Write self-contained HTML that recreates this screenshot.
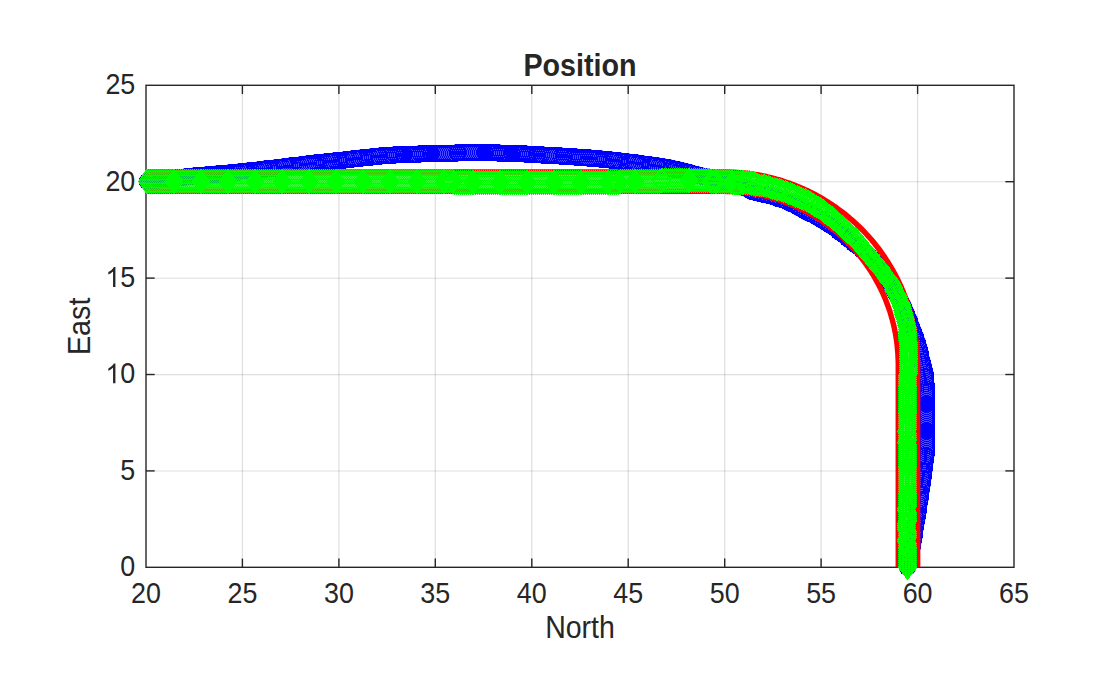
<!DOCTYPE html>
<html><head><meta charset="utf-8"><title>Position</title>
<style>
html,body{margin:0;padding:0;background:#fff;}
body{width:1120px;height:676px;overflow:hidden;font-family:"Liberation Sans",sans-serif;}
svg{display:block;}
text{font-family:"Liberation Sans",sans-serif;fill:#262626;}
</style></head><body>
<svg width="1120" height="676" viewBox="0 0 1120 676">
<defs>
<marker id="gd" markerUnits="userSpaceOnUse" markerWidth="24" markerHeight="30" refX="0" refY="0" viewBox="-12 -15 24 30" orient="0" overflow="visible">
<path d="M0,-12 L9,0 L0,12 L-9,0 Z" fill="none" stroke="#00ff00" stroke-width="1" shape-rendering="crispEdges"/></marker>
<marker id="bc" markerUnits="userSpaceOnUse" markerWidth="22" markerHeight="22" refX="0" refY="0" viewBox="-11 -11 22 22" orient="0" overflow="visible">
<circle cx="0" cy="0" r="8" fill="none" stroke="#0000ff" stroke-width="1" shape-rendering="crispEdges"/></marker>
<marker id="gf" markerUnits="userSpaceOnUse" markerWidth="24" markerHeight="30" refX="0" refY="0" viewBox="-12 -15 24 30" orient="0" overflow="visible">
<path d="M0,-12.5 L9.5,0 L0,12.5 L-9.5,0 Z" fill="#00ff00"/></marker>
<marker id="bf" markerUnits="userSpaceOnUse" markerWidth="22" markerHeight="22" refX="0" refY="0" viewBox="-11 -11 22 22" orient="0" overflow="visible">
<circle cx="0" cy="0" r="8.5" fill="#0000ff"/></marker>
<marker id="gd0" markerUnits="userSpaceOnUse" markerWidth="24" markerHeight="30" refX="0" refY="0" viewBox="-12 -15 24 30" orient="0" overflow="visible">
<path d="M0,-12 L7.8,0 L0,12 L-7.8,0 Z" fill="none" stroke="#00ff00" stroke-width="1" shape-rendering="crispEdges"/></marker>
<marker id="gf0" markerUnits="userSpaceOnUse" markerWidth="24" markerHeight="30" refX="0" refY="0" viewBox="-12 -15 24 30" orient="0" overflow="visible">
<path d="M0,-12.5 L8.3,0 L0,12.5 L-8.3,0 Z" fill="#00ff00"/></marker>
<marker id="bc0" markerUnits="userSpaceOnUse" markerWidth="22" markerHeight="22" refX="0" refY="0" viewBox="-11 -11 22 22" orient="0" overflow="visible">
<circle cx="0" cy="0" r="7.2" fill="none" stroke="#0000ff" stroke-width="1" shape-rendering="crispEdges"/></marker>
<marker id="bf0" markerUnits="userSpaceOnUse" markerWidth="22" markerHeight="22" refX="0" refY="0" viewBox="-11 -11 22 22" orient="0" overflow="visible">
<circle cx="0" cy="0" r="7.7" fill="#0000ff"/></marker>
<marker id="gda" markerUnits="userSpaceOnUse" markerWidth="24" markerHeight="30" refX="0" refY="0" viewBox="-12 -15 24 30" orient="0" overflow="visible">
<path d="M0,-11.2 L9,0 L0,11.2 L-9,0 Z" fill="none" stroke="#00ff00" stroke-width="1" shape-rendering="crispEdges"/></marker>
<marker id="gfa" markerUnits="userSpaceOnUse" markerWidth="24" markerHeight="30" refX="0" refY="0" viewBox="-12 -15 24 30" orient="0" overflow="visible">
<path d="M0,-11.7 L9.5,0 L0,11.7 L-9.5,0 Z" fill="#00ff00"/></marker>
</defs>
<rect width="1120" height="676" fill="#fff"/>
<g stroke="rgba(38,38,38,0.15)" stroke-width="1.25" fill="none"><line x1="242.4" y1="85.3" x2="242.4" y2="567.3"/><line x1="338.9" y1="85.3" x2="338.9" y2="567.3"/><line x1="435.3" y1="85.3" x2="435.3" y2="567.3"/><line x1="531.8" y1="85.3" x2="531.8" y2="567.3"/><line x1="628.2" y1="85.3" x2="628.2" y2="567.3"/><line x1="724.7" y1="85.3" x2="724.7" y2="567.3"/><line x1="821.1" y1="85.3" x2="821.1" y2="567.3"/><line x1="917.6" y1="85.3" x2="917.6" y2="567.3"/><line stroke-width="1.1" x1="146.0" y1="471.0" x2="1014.0" y2="471.0"/><line stroke-width="1.1" x1="146.0" y1="374.6" x2="1014.0" y2="374.6"/><line stroke-width="1.1" x1="146.0" y1="278.2" x2="1014.0" y2="278.2"/><line stroke-width="1.1" x1="146.0" y1="181.8" x2="1014.0" y2="181.8"/></g>
<g stroke="#262626" stroke-width="1.4" fill="none"><line x1="242.4" y1="567.3" x2="242.4" y2="558.6"/><line x1="242.4" y1="85.3" x2="242.4" y2="94.0"/><line x1="338.9" y1="567.3" x2="338.9" y2="558.6"/><line x1="338.9" y1="85.3" x2="338.9" y2="94.0"/><line x1="435.3" y1="567.3" x2="435.3" y2="558.6"/><line x1="435.3" y1="85.3" x2="435.3" y2="94.0"/><line x1="531.8" y1="567.3" x2="531.8" y2="558.6"/><line x1="531.8" y1="85.3" x2="531.8" y2="94.0"/><line x1="628.2" y1="567.3" x2="628.2" y2="558.6"/><line x1="628.2" y1="85.3" x2="628.2" y2="94.0"/><line x1="724.7" y1="567.3" x2="724.7" y2="558.6"/><line x1="724.7" y1="85.3" x2="724.7" y2="94.0"/><line x1="821.1" y1="567.3" x2="821.1" y2="558.6"/><line x1="821.1" y1="85.3" x2="821.1" y2="94.0"/><line x1="917.6" y1="567.3" x2="917.6" y2="558.6"/><line x1="917.6" y1="85.3" x2="917.6" y2="94.0"/><line x1="146.0" y1="470.9" x2="154.7" y2="470.9"/><line x1="1014.0" y1="470.9" x2="1005.3" y2="470.9"/><line x1="146.0" y1="374.5" x2="154.7" y2="374.5"/><line x1="1014.0" y1="374.5" x2="1005.3" y2="374.5"/><line x1="146.0" y1="278.1" x2="154.7" y2="278.1"/><line x1="1014.0" y1="278.1" x2="1005.3" y2="278.1"/><line x1="146.0" y1="181.7" x2="154.7" y2="181.7"/><line x1="1014.0" y1="181.7" x2="1005.3" y2="181.7"/>
<rect x="146.0" y="85.3" width="868.0" height="481.99999999999994"/></g>
<g fill="none" stroke-linejoin="round">
<g opacity="0.7"><polyline points="146.5,181.5 147.5,181.5 149.5,181.5 151.5,180.5 153.5,180.5 155.5,180.5 157.5,180.5 159.5,179.5 161.5,179.5 163.5,179.5 165.5,179.5 167.5,178.5 168.5,178.5 170.5,178.5 172.5,178.5 174.5,178.5 176.5,177.5 178.5,177.5 180.5,177.5 182.5,177.5 184.5,177.5 186.5,176.5 188.5,176.5 190.5,176.5 191.5,176.5 193.5,176.5 195.5,175.5 197.5,175.5 199.5,175.5 201.5,175.5 203.5,175.5 205.5,175.5 207.5,174.5 209.5,174.5 211.5,174.5 213.5,174.5 215.5,174.5 216.5,174.5 218.5,173.5 220.5,173.5 222.5,173.5 224.5,173.5 226.5,173.5 228.5,173.5 230.5,172.5 232.5,172.5 234.5,172.5 236.5,172.5 238.5,172.5 240.5,171.5 241.5,171.5 243.5,171.5 245.5,171.5 247.5,171.5 249.5,170.5 251.5,170.5 253.5,170.5 255.5,170.5 257.5,170.5 259.5,169.5 261.5,169.5 263.5,169.5 264.5,169.5 266.5,168.5 268.5,168.5 270.5,168.5 272.5,168.5 274.5,168.5 276.5,167.5 278.5,167.5 280.5,167.5 282.5,167.5 284.5,166.5 285.5,166.5 287.5,166.5 289.5,166.5 291.5,165.5 293.5,165.5 295.5,165.5 297.5,165.5 299.5,165.5 301.5,164.5 303.5,164.5 305.5,164.5 307.5,164.5 308.5,163.5 310.5,163.5 312.5,163.5 314.5,163.5 316.5,162.5 318.5,162.5 320.5,162.5 322.5,162.5 324.5,162.5 326.5,161.5 328.5,161.5 330.5,161.5 331.5,161.5 333.5,161.5 335.5,160.5 337.5,160.5 339.5,160.5 341.5,160.5 343.5,160.5 345.5,159.5 347.5,159.5 349.5,159.5 351.5,159.5 353.5,158.5 354.5,158.5 356.5,158.5 358.5,158.5 360.5,158.5 362.5,157.5 364.5,157.5 366.5,157.5 368.5,157.5 370.5,157.5 372.5,156.5 374.5,156.5 376.5,156.5 378.5,156.5 379.5,156.5 381.5,155.5 383.5,155.5 385.5,155.5 387.5,155.5 389.5,155.5 391.5,155.5 393.5,155.5 395.5,154.5 397.5,154.5 399.5,154.5 401.5,154.5 403.5,154.5 404.5,154.5 406.5,154.5 408.5,154.5 410.5,154.5 412.5,154.5 414.5,154.5 416.5,154.5 418.5,154.5 420.5,153.5 422.5,153.5 424.5,153.5 426.5,153.5 428.5,153.5 430.5,153.5 431.5,153.5 433.5,153.5 435.5,153.5 437.5,153.5 439.5,153.5 441.5,153.5 443.5,153.5 445.5,153.5 447.5,153.5 449.5,153.5 451.5,153.5 453.5,153.5 455.5,153.5 457.5,152.5 458.5,152.5 460.5,152.5 462.5,152.5 464.5,152.5 466.5,152.5 468.5,152.5 470.5,152.5 472.5,152.5 474.5,152.5 476.5,152.5 478.5,152.5 480.5,152.5 482.5,152.5 484.5,152.5 485.5,152.5 487.5,152.5 489.5,152.5 491.5,152.5 493.5,152.5 495.5,152.5 497.5,152.5 499.5,153.5 501.5,153.5 503.5,153.5 505.5,153.5 507.5,153.5 509.5,153.5 511.5,153.5 512.5,153.5 514.5,153.5 516.5,153.5 518.5,153.5 520.5,153.5 522.5,153.5 524.5,153.5 526.5,154.5 528.5,154.5 530.5,154.5 532.5,154.5 534.5,154.5 536.5,154.5 537.5,154.5 539.5,154.5 541.5,154.5 543.5,155.5 545.5,155.5 547.5,155.5 549.5,155.5 551.5,155.5 553.5,155.5 555.5,155.5 557.5,155.5 559.5,155.5 561.5,156.5 563.5,156.5 564.5,156.5 566.5,156.5 568.5,156.5 570.5,156.5 572.5,156.5 574.5,156.5 576.5,157.5 578.5,157.5 580.5,157.5 582.5,157.5 584.5,157.5 586.5,157.5 588.5,157.5 589.5,158.5 591.5,158.5 593.5,158.5 595.5,158.5 597.5,158.5 599.5,158.5 601.5,159.5 603.5,159.5 605.5,159.5 607.5,159.5 609.5,159.5 611.5,160.5 613.5,160.5 614.5,160.5 616.5,160.5 618.5,160.5 620.5,161.5 622.5,161.5 624.5,161.5 626.5,161.5 628.5,162.5 630.5,162.5 632.5,162.5 634.5,162.5 635.5,162.5 637.5,163.5 639.5,163.5 641.5,163.5 643.5,164.5 645.5,164.5 647.5,164.5 649.5,164.5 651.5,165.5 653.5,165.5 655.5,165.5 656.5,165.5 658.5,166.5 660.5,166.5 662.5,166.5 664.5,167.5 666.5,167.5 668.5,167.5 670.5,168.5 672.5,168.5 674.5,169.5 675.5,169.5 677.5,169.5 679.5,170.5 681.5,170.5 683.5,171.5 685.5,171.5 687.5,172.5 689.5,172.5 690.5,173.5 692.5,173.5 694.5,174.5 696.5,174.5 698.5,175.5 700.5,175.5 702.5,176.5 704.5,176.5 705.5,176.5 707.5,177.5 709.5,177.5 711.5,178.5 713.5,178.5 715.5,179.5 717.5,179.5 718.5,180.5 720.5,180.5 722.5,181.5 724.5,182.5 726.5,182.5 728.5,182.5 730.5,183.5 732.5,183.5 733.5,184.5 735.5,184.5 737.5,185.5 739.5,185.5 741.5,186.5 743.5,187.5 744.5,187.5 746.5,188.5 748.5,189.5 750.5,190.5 751.5,191.5 753.5,191.5 755.5,192.5 757.5,192.5 759.5,193.5 761.5,193.5 763.5,194.5 764.5,194.5 766.5,194.5 768.5,195.5 770.5,195.5 772.5,196.5 774.5,196.5 776.5,197.5 777.5,198.5 779.5,198.5 781.5,199.5 783.5,199.5 785.5,200.5 787.5,201.5 788.5,202.5 790.5,203.5 792.5,203.5 793.5,204.5 795.5,205.5 797.5,206.5 798.5,207.5 800.5,208.5 802.5,209.5 804.5,210.5 805.5,211.5 807.5,212.5 809.5,213.5 810.5,213.5 812.5,214.5 814.5,215.5 816.5,216.5 817.5,217.5 819.5,218.5 821.5,219.5 822.5,220.5 824.5,221.5 826.5,222.5 827.5,223.5 829.5,224.5 830.5,225.5 832.5,226.5 834.5,227.5 835.5,228.5 837.5,229.5 838.5,231.5 840.5,232.5 841.5,233.5 843.5,234.5 844.5,235.5 846.5,236.5 847.5,238.5 849.5,239.5 850.5,240.5 852.5,241.5 853.5,243.5 855.5,244.5 856.5,245.5 858.5,246.5 859.5,247.5 861.5,249.5 862.5,250.5 864.5,251.5 865.5,252.5 867.5,254.5 868.5,255.5 869.5,256.5 871.5,258.5 872.5,259.5 873.5,261.5 875.5,262.5 876.5,264.5 877.5,265.5 878.5,267.5 879.5,268.5 881.5,270.5 882.5,271.5 883.5,273.5 884.5,274.5 885.5,276.5 886.5,278.5 887.5,279.5 888.5,281.5 889.5,282.5 890.5,284.5 892.5,286.5 893.5,287.5 893.5,289.5 894.5,291.5 895.5,292.5 896.5,294.5 897.5,296.5 898.5,297.5 899.5,299.5 900.5,301.5 901.5,303.5 902.5,304.5 903.5,306.5 903.5,308.5 904.5,309.5 905.5,311.5 906.5,313.5 906.5,315.5 907.5,317.5 908.5,318.5 909.5,320.5 909.5,322.5 910.5,324.5 911.5,326.5 911.5,327.5 912.5,329.5 913.5,331.5 913.5,333.5 914.5,335.5 915.5,336.5 915.5,338.5 916.5,340.5 917.5,342.5 917.5,344.5 918.5,346.5 918.5,347.5 919.5,349.5 919.5,351.5 920.5,353.5 920.5,355.5 920.5,357.5 921.5,359.5 921.5,361.5 922.5,362.5 922.5,364.5 923.5,366.5 923.5,368.5 924.5,370.5 924.5,372.5 925.5,374.5 925.5,376.5 925.5,377.5 925.5,379.5 925.5,381.5 925.5,383.5 926.5,385.5 926.5,387.5 926.5,389.5 926.5,391.5 926.5,393.5 926.5,395.5 926.5,397.5 926.5,399.5 926.5,401.5 926.5,403.5 926.5,404.5 926.5,406.5 926.5,408.5 926.5,410.5 926.5,412.5 926.5,414.5 926.5,416.5 926.5,418.5 926.5,420.5 926.5,422.5 926.5,424.5 926.5,426.5 926.5,428.5 926.5,430.5 926.5,431.5 926.5,433.5 926.5,435.5 926.5,437.5 926.5,439.5 926.5,441.5 926.5,443.5 926.5,445.5 926.5,447.5 926.5,449.5 926.5,451.5 926.5,453.5 925.5,455.5 925.5,456.5 925.5,458.5 925.5,460.5 924.5,462.5 924.5,464.5 924.5,466.5 924.5,468.5 923.5,470.5 923.5,472.5 923.5,474.5 923.5,476.5 922.5,478.5 922.5,479.5 922.5,481.5 922.5,483.5 921.5,485.5 921.5,487.5 921.5,489.5 920.5,491.5 920.5,493.5 920.5,495.5 920.5,497.5 919.5,499.5 919.5,500.5 919.5,502.5 918.5,504.5 918.5,506.5 918.5,508.5 918.5,510.5 917.5,512.5 917.5,514.5 917.5,516.5 916.5,518.5 916.5,519.5 916.5,521.5 915.5,523.5 915.5,525.5 915.5,527.5 914.5,529.5 914.5,531.5 914.5,533.5 914.5,535.5 913.5,537.5 913.5,539.5 913.5,540.5 912.5,542.5 912.5,544.5 912.5,546.5 911.5,548.5 911.5,550.5 910.5,552.5 910.5,554.5 910.5,556.5 909.5,557.5 909.5,559.5 909.5,561.5 908.5,563.5 908.5,565.5 907.5,567.5" stroke="none" marker-start="url(#bf0)" marker-mid="url(#bf)" marker-end="url(#bf)"/></g>
<polyline points="146.5,181.5 147.5,181.5 149.5,181.5 151.5,180.5 153.5,180.5 155.5,180.5 157.5,180.5 159.5,179.5 161.5,179.5 163.5,179.5 165.5,179.5 167.5,178.5 168.5,178.5 170.5,178.5 172.5,178.5 174.5,178.5 176.5,177.5 178.5,177.5 180.5,177.5 182.5,177.5 184.5,177.5 186.5,176.5 188.5,176.5 190.5,176.5 191.5,176.5 193.5,176.5 195.5,175.5 197.5,175.5 199.5,175.5 201.5,175.5 203.5,175.5 205.5,175.5 207.5,174.5 209.5,174.5 211.5,174.5 213.5,174.5 215.5,174.5 216.5,174.5 218.5,173.5 220.5,173.5 222.5,173.5 224.5,173.5 226.5,173.5 228.5,173.5 230.5,172.5 232.5,172.5 234.5,172.5 236.5,172.5 238.5,172.5 240.5,171.5 241.5,171.5 243.5,171.5 245.5,171.5 247.5,171.5 249.5,170.5 251.5,170.5 253.5,170.5 255.5,170.5 257.5,170.5 259.5,169.5 261.5,169.5 263.5,169.5 264.5,169.5 266.5,168.5 268.5,168.5 270.5,168.5 272.5,168.5 274.5,168.5 276.5,167.5 278.5,167.5 280.5,167.5 282.5,167.5 284.5,166.5 285.5,166.5 287.5,166.5 289.5,166.5 291.5,165.5 293.5,165.5 295.5,165.5 297.5,165.5 299.5,165.5 301.5,164.5 303.5,164.5 305.5,164.5 307.5,164.5 308.5,163.5 310.5,163.5 312.5,163.5 314.5,163.5 316.5,162.5 318.5,162.5 320.5,162.5 322.5,162.5 324.5,162.5 326.5,161.5 328.5,161.5 330.5,161.5 331.5,161.5 333.5,161.5 335.5,160.5 337.5,160.5 339.5,160.5 341.5,160.5 343.5,160.5 345.5,159.5 347.5,159.5 349.5,159.5 351.5,159.5 353.5,158.5 354.5,158.5 356.5,158.5 358.5,158.5 360.5,158.5 362.5,157.5 364.5,157.5 366.5,157.5 368.5,157.5 370.5,157.5 372.5,156.5 374.5,156.5 376.5,156.5 378.5,156.5 379.5,156.5 381.5,155.5 383.5,155.5 385.5,155.5 387.5,155.5 389.5,155.5 391.5,155.5 393.5,155.5 395.5,154.5 397.5,154.5 399.5,154.5 401.5,154.5 403.5,154.5 404.5,154.5 406.5,154.5 408.5,154.5 410.5,154.5 412.5,154.5 414.5,154.5 416.5,154.5 418.5,154.5 420.5,153.5 422.5,153.5 424.5,153.5 426.5,153.5 428.5,153.5 430.5,153.5 431.5,153.5 433.5,153.5 435.5,153.5 437.5,153.5 439.5,153.5 441.5,153.5 443.5,153.5 445.5,153.5 447.5,153.5 449.5,153.5 451.5,153.5 453.5,153.5 455.5,153.5 457.5,152.5 458.5,152.5 460.5,152.5 462.5,152.5 464.5,152.5 466.5,152.5 468.5,152.5 470.5,152.5 472.5,152.5 474.5,152.5 476.5,152.5 478.5,152.5 480.5,152.5 482.5,152.5 484.5,152.5 485.5,152.5 487.5,152.5 489.5,152.5 491.5,152.5 493.5,152.5 495.5,152.5 497.5,152.5 499.5,153.5 501.5,153.5 503.5,153.5 505.5,153.5 507.5,153.5 509.5,153.5 511.5,153.5 512.5,153.5 514.5,153.5 516.5,153.5 518.5,153.5 520.5,153.5 522.5,153.5 524.5,153.5 526.5,154.5 528.5,154.5 530.5,154.5 532.5,154.5 534.5,154.5 536.5,154.5 537.5,154.5 539.5,154.5 541.5,154.5 543.5,155.5 545.5,155.5 547.5,155.5 549.5,155.5 551.5,155.5 553.5,155.5 555.5,155.5 557.5,155.5 559.5,155.5 561.5,156.5 563.5,156.5 564.5,156.5 566.5,156.5 568.5,156.5 570.5,156.5 572.5,156.5 574.5,156.5 576.5,157.5 578.5,157.5 580.5,157.5 582.5,157.5 584.5,157.5 586.5,157.5 588.5,157.5 589.5,158.5 591.5,158.5 593.5,158.5 595.5,158.5 597.5,158.5 599.5,158.5 601.5,159.5 603.5,159.5 605.5,159.5 607.5,159.5 609.5,159.5 611.5,160.5 613.5,160.5 614.5,160.5 616.5,160.5 618.5,160.5 620.5,161.5 622.5,161.5 624.5,161.5 626.5,161.5 628.5,162.5 630.5,162.5 632.5,162.5 634.5,162.5 635.5,162.5 637.5,163.5 639.5,163.5 641.5,163.5 643.5,164.5 645.5,164.5 647.5,164.5 649.5,164.5 651.5,165.5 653.5,165.5 655.5,165.5 656.5,165.5 658.5,166.5 660.5,166.5 662.5,166.5 664.5,167.5 666.5,167.5 668.5,167.5 670.5,168.5 672.5,168.5 674.5,169.5 675.5,169.5 677.5,169.5 679.5,170.5 681.5,170.5 683.5,171.5 685.5,171.5 687.5,172.5 689.5,172.5 690.5,173.5 692.5,173.5 694.5,174.5 696.5,174.5 698.5,175.5 700.5,175.5 702.5,176.5 704.5,176.5 705.5,176.5 707.5,177.5 709.5,177.5 711.5,178.5 713.5,178.5 715.5,179.5 717.5,179.5 718.5,180.5 720.5,180.5 722.5,181.5 724.5,182.5 726.5,182.5 728.5,182.5 730.5,183.5 732.5,183.5 733.5,184.5 735.5,184.5 737.5,185.5 739.5,185.5 741.5,186.5 743.5,187.5 744.5,187.5 746.5,188.5 748.5,189.5 750.5,190.5 751.5,191.5 753.5,191.5 755.5,192.5 757.5,192.5 759.5,193.5 761.5,193.5 763.5,194.5 764.5,194.5 766.5,194.5 768.5,195.5 770.5,195.5 772.5,196.5 774.5,196.5 776.5,197.5 777.5,198.5 779.5,198.5 781.5,199.5 783.5,199.5 785.5,200.5 787.5,201.5 788.5,202.5 790.5,203.5 792.5,203.5 793.5,204.5 795.5,205.5 797.5,206.5 798.5,207.5 800.5,208.5 802.5,209.5 804.5,210.5 805.5,211.5 807.5,212.5 809.5,213.5 810.5,213.5 812.5,214.5 814.5,215.5 816.5,216.5 817.5,217.5 819.5,218.5 821.5,219.5 822.5,220.5 824.5,221.5 826.5,222.5 827.5,223.5 829.5,224.5 830.5,225.5 832.5,226.5 834.5,227.5 835.5,228.5 837.5,229.5 838.5,231.5 840.5,232.5 841.5,233.5 843.5,234.5 844.5,235.5 846.5,236.5 847.5,238.5 849.5,239.5 850.5,240.5 852.5,241.5 853.5,243.5 855.5,244.5 856.5,245.5 858.5,246.5 859.5,247.5 861.5,249.5 862.5,250.5 864.5,251.5 865.5,252.5 867.5,254.5 868.5,255.5 869.5,256.5 871.5,258.5 872.5,259.5 873.5,261.5 875.5,262.5 876.5,264.5 877.5,265.5 878.5,267.5 879.5,268.5 881.5,270.5 882.5,271.5 883.5,273.5 884.5,274.5 885.5,276.5 886.5,278.5 887.5,279.5 888.5,281.5 889.5,282.5 890.5,284.5 892.5,286.5 893.5,287.5 893.5,289.5 894.5,291.5 895.5,292.5 896.5,294.5 897.5,296.5 898.5,297.5 899.5,299.5 900.5,301.5 901.5,303.5 902.5,304.5 903.5,306.5 903.5,308.5 904.5,309.5 905.5,311.5 906.5,313.5 906.5,315.5 907.5,317.5 908.5,318.5 909.5,320.5 909.5,322.5 910.5,324.5 911.5,326.5 911.5,327.5 912.5,329.5 913.5,331.5 913.5,333.5 914.5,335.5 915.5,336.5 915.5,338.5 916.5,340.5 917.5,342.5 917.5,344.5 918.5,346.5 918.5,347.5 919.5,349.5 919.5,351.5 920.5,353.5 920.5,355.5 920.5,357.5 921.5,359.5 921.5,361.5 922.5,362.5 922.5,364.5 923.5,366.5 923.5,368.5 924.5,370.5 924.5,372.5 925.5,374.5 925.5,376.5 925.5,377.5 925.5,379.5 925.5,381.5 925.5,383.5 926.5,385.5 926.5,387.5 926.5,389.5 926.5,391.5 926.5,393.5 926.5,395.5 926.5,397.5 926.5,399.5 926.5,401.5 926.5,403.5 926.5,404.5 926.5,406.5 926.5,408.5 926.5,410.5 926.5,412.5 926.5,414.5 926.5,416.5 926.5,418.5 926.5,420.5 926.5,422.5 926.5,424.5 926.5,426.5 926.5,428.5 926.5,430.5 926.5,431.5 926.5,433.5 926.5,435.5 926.5,437.5 926.5,439.5 926.5,441.5 926.5,443.5 926.5,445.5 926.5,447.5 926.5,449.5 926.5,451.5 926.5,453.5 925.5,455.5 925.5,456.5 925.5,458.5 925.5,460.5 924.5,462.5 924.5,464.5 924.5,466.5 924.5,468.5 923.5,470.5 923.5,472.5 923.5,474.5 923.5,476.5 922.5,478.5 922.5,479.5 922.5,481.5 922.5,483.5 921.5,485.5 921.5,487.5 921.5,489.5 920.5,491.5 920.5,493.5 920.5,495.5 920.5,497.5 919.5,499.5 919.5,500.5 919.5,502.5 918.5,504.5 918.5,506.5 918.5,508.5 918.5,510.5 917.5,512.5 917.5,514.5 917.5,516.5 916.5,518.5 916.5,519.5 916.5,521.5 915.5,523.5 915.5,525.5 915.5,527.5 914.5,529.5 914.5,531.5 914.5,533.5 914.5,535.5 913.5,537.5 913.5,539.5 913.5,540.5 912.5,542.5 912.5,544.5 912.5,546.5 911.5,548.5 911.5,550.5 910.5,552.5 910.5,554.5 910.5,556.5 909.5,557.5 909.5,559.5 909.5,561.5 908.5,563.5 908.5,565.5 907.5,567.5" stroke="none" marker-start="url(#bc0)" marker-mid="url(#bc)" marker-end="url(#bc)"/>
<polyline points="146.0,172.1 724.7,172.1 727.2,172.1 729.7,172.1 732.2,172.2 734.8,172.3 737.3,172.5 739.8,172.7 742.3,172.9 744.8,173.1 747.3,173.4 749.8,173.7 752.3,174.1 754.8,174.4 757.3,174.8 759.8,175.3 762.3,175.8 764.8,176.3 767.2,176.8 769.7,177.4 772.1,178.0 774.6,178.6 777.0,179.3 779.5,180.0 781.9,180.7 784.3,181.5 786.7,182.3 789.1,183.1 791.4,184.0 793.8,184.9 796.1,185.8 798.5,186.7 800.8,187.7 803.1,188.7 805.4,189.8 807.7,190.8 810.0,191.9 812.2,193.1 814.5,194.2 816.7,195.4 818.9,196.6 821.1,197.9 823.3,199.2 825.5,200.5 827.6,201.8 829.7,203.2 831.8,204.6 833.9,206.0 836.0,207.4 838.0,208.9 840.1,210.4 842.1,211.9 844.1,213.5 846.1,215.0 848.0,216.6 849.9,218.3 851.8,219.9 853.7,221.6 855.6,223.3 857.4,225.0 859.3,226.8 861.1,228.5 862.8,230.3 864.6,232.1 866.3,234.0 868.0,235.9 869.7,237.7 871.3,239.6 873.0,241.6 874.6,243.5 876.1,245.5 877.7,247.5 879.2,249.5 880.7,251.5 882.2,253.6 883.6,255.7 885.0,257.7 886.4,259.9 887.8,262.0 889.1,264.1 890.4,266.3 891.7,268.5 893.0,270.7 894.2,272.9 895.4,275.1 896.5,277.3 897.7,279.6 898.8,281.9 899.8,284.1 900.9,286.4 901.9,288.8 902.9,291.1 903.8,293.4 904.7,295.8 905.6,298.1 906.5,300.5 907.3,302.9 908.1,305.3 908.9,307.7 909.6,310.1 910.3,312.5 911.0,315.0 911.6,317.4 912.2,319.9 912.8,322.3 913.3,324.8 913.8,327.2 914.3,329.7 914.8,332.2 915.2,334.7 915.6,337.2 915.9,339.7 916.2,342.2 916.5,344.7 916.7,347.2 917.0,349.7 917.1,352.3 917.3,354.8 917.4,357.3 917.5,359.8 917.5,362.3 917.6,364.9 917.6,567.3" stroke="#ff0000" stroke-width="5.5"/>
<polyline points="146.0,191.3 724.7,191.3 726.9,191.4 729.2,191.4 731.5,191.5 733.8,191.6 736.0,191.7 738.3,191.9 740.6,192.1 742.8,192.3 745.1,192.5 747.3,192.8 749.6,193.1 751.8,193.5 754.1,193.8 756.3,194.2 758.5,194.7 760.8,195.1 763.0,195.6 765.2,196.1 767.4,196.7 769.6,197.3 771.8,197.9 774.0,198.5 776.1,199.1 778.3,199.8 780.5,200.5 782.6,201.3 784.8,202.1 786.9,202.9 789.0,203.7 791.1,204.5 793.2,205.4 795.3,206.3 797.3,207.3 799.4,208.2 801.4,209.2 803.5,210.3 805.5,211.3 807.5,212.4 809.5,213.5 811.5,214.6 813.4,215.7 815.4,216.9 817.3,218.1 819.2,219.3 821.1,220.6 823.0,221.9 824.9,223.2 826.7,224.5 828.5,225.8 830.3,227.2 832.1,228.6 833.9,230.0 835.7,231.5 837.4,232.9 839.1,234.4 840.8,235.9 842.5,237.4 844.2,239.0 845.8,240.6 847.4,242.2 849.0,243.8 850.6,245.4 852.1,247.1 853.7,248.8 855.2,250.5 856.7,252.2 858.1,253.9 859.6,255.7 861.0,257.4 862.4,259.2 863.8,261.0 865.1,262.9 866.4,264.7 867.7,266.6 869.0,268.5 870.3,270.4 871.5,272.3 872.7,274.2 873.9,276.1 875.0,278.1 876.1,280.1 877.2,282.1 878.3,284.1 879.3,286.1 880.4,288.1 881.4,290.2 882.3,292.2 883.3,294.3 884.2,296.4 885.1,298.5 885.9,300.6 886.7,302.7 887.5,304.8 888.3,306.9 889.1,309.1 889.8,311.2 890.5,313.4 891.1,315.6 891.7,317.8 892.4,319.9 892.9,322.1 893.5,324.4 894.0,326.6 894.5,328.8 894.9,331.0 895.4,333.2 895.8,335.5 896.1,337.7 896.5,340.0 896.8,342.2 897.1,344.5 897.3,346.7 897.5,349.0 897.7,351.2 897.9,353.5 898.0,355.8 898.1,358.0 898.2,360.3 898.3,362.6 898.3,364.9 898.3,567.3" stroke="#ff0000" stroke-width="5.5"/>
<g opacity="0.76"><polyline points="146.5,181.5 147.5,181.5 149.5,181.5 151.5,181.5 153.5,181.5 155.5,181.5 157.5,181.5 159.5,181.5 161.5,181.5 163.5,181.5 165.5,181.5 167.5,181.5 169.5,181.5 171.5,181.5 173.5,181.5 174.5,181.5 176.5,181.5 178.5,181.5 180.5,181.5 182.5,181.5 184.5,181.5 186.5,181.5 188.5,181.5 190.5,181.5 192.5,181.5 194.5,181.5 196.5,181.5 198.5,181.5 200.5,181.5 201.5,181.5 203.5,181.5 205.5,181.5 207.5,181.5 209.5,181.5 211.5,181.5 213.5,181.5 215.5,181.5 217.5,181.5 219.5,181.5 221.5,181.5 223.5,181.5 225.5,181.5 227.5,181.5 228.5,181.5 230.5,181.5 232.5,181.5 234.5,181.5 236.5,181.5 238.5,181.5 240.5,181.5 242.5,181.5 244.5,181.5 246.5,181.5 248.5,181.5 250.5,181.5 252.5,181.5 254.5,181.5 255.5,181.5 257.5,181.5 259.5,181.5 261.5,181.5 263.5,181.5 265.5,181.5 267.5,181.5 269.5,181.5 271.5,181.5 273.5,181.5 275.5,181.5 277.5,181.5 279.5,181.5 281.5,181.5 282.5,181.5 284.5,181.5 286.5,181.5 288.5,181.5 290.5,181.5 292.5,181.5 294.5,181.5 296.5,181.5 298.5,181.5 300.5,181.5 302.5,181.5 304.5,181.5 306.5,181.5 308.5,181.5 309.5,181.5 311.5,181.5 313.5,181.5 315.5,181.5 317.5,181.5 319.5,181.5 321.5,181.5 323.5,181.5 325.5,181.5 327.5,181.5 329.5,181.5 331.5,181.5 333.5,181.5 335.5,181.5 336.5,181.5 338.5,181.5 340.5,181.5 342.5,181.5 344.5,181.5 346.5,181.5 348.5,181.5 350.5,181.5 352.5,181.5 354.5,181.5 356.5,181.5 358.5,181.5 360.5,181.5 362.5,181.5 363.5,181.5 365.5,181.5 367.5,181.5 369.5,181.5 371.5,181.5 373.5,181.5 375.5,181.5 377.5,181.5 379.5,181.5 381.5,181.5 383.5,181.5 385.5,181.5 387.5,181.5 389.5,181.5 390.5,181.5 392.5,181.5 394.5,181.5 396.5,181.5 398.5,181.5 400.5,181.5 402.5,181.5 404.5,181.5 406.5,181.5 408.5,181.5 410.5,181.5 412.5,181.5 414.5,181.5 416.5,181.5 417.5,181.5 419.5,181.5 421.5,181.5 423.5,181.5 425.5,181.5 427.5,181.5 429.5,181.5 431.5,181.5 433.5,181.5 435.5,181.5 437.5,181.5 439.5,181.5 441.5,181.5 443.5,181.5 444.5,181.5 446.5,181.5 448.5,181.5 450.5,181.5 452.5,181.5 454.5,182.5 456.5,182.5 458.5,182.5 460.5,182.5 462.5,182.5 464.5,182.5 466.5,182.5 468.5,182.5 470.5,182.5 472.5,182.5 473.5,182.5 475.5,182.5 477.5,182.5 479.5,182.5 481.5,182.5 483.5,182.5 485.5,182.5 487.5,182.5 489.5,182.5 491.5,182.5 493.5,182.5 495.5,182.5 497.5,182.5 499.5,182.5 500.5,182.5 502.5,182.5 504.5,182.5 506.5,182.5 508.5,182.5 510.5,182.5 512.5,182.5 514.5,182.5 516.5,182.5 518.5,182.5 520.5,182.5 522.5,182.5 524.5,182.5 526.5,182.5 527.5,182.5 529.5,182.5 531.5,182.5 533.5,182.5 535.5,182.5 537.5,182.5 539.5,182.5 541.5,182.5 543.5,182.5 545.5,182.5 547.5,182.5 549.5,182.5 551.5,182.5 553.5,182.5 554.5,182.5 556.5,182.5 558.5,182.5 560.5,182.5 562.5,182.5 564.5,182.5 566.5,182.5 568.5,182.5 570.5,182.5 572.5,182.5 574.5,182.5 576.5,182.5 578.5,182.5 580.5,182.5 581.5,182.5 583.5,182.5 585.5,182.5 587.5,182.5 589.5,182.5 591.5,182.5 593.5,182.5 595.5,182.5 597.5,182.5 599.5,182.5 601.5,182.5 603.5,182.5 605.5,182.5 607.5,182.5 608.5,182.5 610.5,182.5 612.5,182.5 614.5,182.5 616.5,182.5 618.5,182.5 620.5,181.5 622.5,181.5 624.5,181.5 626.5,181.5 628.5,181.5 630.5,181.5 632.5,181.5 634.5,181.5 635.5,181.5 637.5,181.5 639.5,181.5 641.5,181.5 643.5,181.5 645.5,181.5 647.5,181.5 649.5,181.5 651.5,181.5 653.5,181.5 655.5,181.5 657.5,181.5 659.5,181.5 661.5,180.5 662.5,180.5 664.5,180.5 666.5,180.5 668.5,180.5 670.5,180.5 672.5,180.5 674.5,180.5 676.5,180.5 678.5,180.5 680.5,180.5 682.5,180.5 684.5,180.5 686.5,180.5 688.5,180.5 689.5,180.5 691.5,180.5 693.5,180.5 695.5,180.5 697.5,180.5 699.5,180.5 701.5,180.5 703.5,180.5 705.5,180.5 707.5,180.5 709.5,180.5 711.5,181.5 713.5,181.5 715.5,181.5 716.5,181.5 718.5,181.5 720.5,181.5 722.5,181.5 724.5,181.5 726.5,181.5 728.5,181.5 730.5,181.5 732.5,182.5 734.5,182.5 736.5,182.5 738.5,182.5 740.5,182.5 742.5,182.5 743.5,182.5 745.5,182.5 747.5,182.5 749.5,182.5 751.5,183.5 753.5,183.5 755.5,184.5" stroke="none" marker-start="url(#gf0)" marker-mid="url(#gf)" marker-end="url(#gf)"/>
<polyline points="757.5,184.5 759.5,185.5 761.5,185.5 763.5,185.5 764.5,185.5 766.5,186.5 768.5,186.5 770.5,187.5 772.5,188.5 774.5,188.5 776.5,189.5 777.5,189.5 779.5,189.5 781.5,190.5 783.5,191.5 785.5,191.5 787.5,192.5 788.5,193.5 790.5,193.5 792.5,194.5 794.5,195.5 795.5,196.5 797.5,196.5 799.5,197.5 801.5,198.5 803.5,199.5 805.5,199.5 806.5,200.5 808.5,201.5 810.5,202.5 811.5,203.5 813.5,204.5 814.5,205.5 816.5,206.5 818.5,207.5 820.5,208.5 821.5,209.5 823.5,210.5 824.5,212.5 826.5,213.5 827.5,214.5 829.5,215.5 830.5,216.5 832.5,217.5 833.5,219.5 835.5,220.5 836.5,221.5 838.5,223.5 839.5,224.5 840.5,225.5 842.5,226.5 843.5,228.5 845.5,229.5 846.5,230.5 847.5,232.5 849.5,233.5 850.5,234.5 852.5,236.5 853.5,237.5 855.5,238.5 856.5,240.5 857.5,241.5 858.5,243.5 860.5,244.5 861.5,246.5 862.5,247.5 863.5,249.5 864.5,250.5 866.5,252.5 867.5,253.5 868.5,254.5 870.5,256.5 871.5,257.5 872.5,259.5 873.5,261.5 874.5,262.5 876.5,264.5 877.5,265.5 878.5,266.5 879.5,268.5 881.5,269.5 882.5,271.5 883.5,273.5 884.5,274.5 885.5,276.5 886.5,277.5 887.5,279.5 889.5,280.5 890.5,282.5 891.5,283.5 892.5,285.5 893.5,287.5 893.5,289.5 894.5,290.5 895.5,292.5 896.5,294.5 897.5,295.5 898.5,297.5 898.5,299.5 899.5,301.5 900.5,303.5 901.5,304.5 901.5,306.5 902.5,308.5 902.5,310.5 903.5,312.5 903.5,314.5 904.5,316.5 904.5,317.5 905.5,319.5 905.5,321.5 906.5,323.5 906.5,325.5 907.5,327.5 907.5,329.5 907.5,331.5 907.5,332.5 907.5,334.5 907.5,336.5 907.5,338.5 907.5,340.5 908.5,342.5 908.5,344.5" stroke="none" marker-start="url(#gfa)" marker-mid="url(#gfa)" marker-end="url(#gfa)"/>
<polyline points="908.5,346.5 908.5,348.5 908.5,350.5 908.5,352.5 908.5,354.5 908.5,356.5 908.5,358.5 908.5,359.5 908.5,361.5 908.5,363.5 908.5,365.5 908.5,367.5 908.5,369.5 908.5,371.5 908.5,373.5 907.5,375.5 907.5,377.5 907.5,379.5 907.5,381.5 907.5,383.5 907.5,385.5 907.5,386.5 907.5,388.5 907.5,390.5 907.5,392.5 907.5,394.5 907.5,396.5 907.5,398.5 907.5,400.5 907.5,402.5 907.5,404.5 907.5,406.5 907.5,408.5 907.5,410.5 907.5,412.5 907.5,413.5 907.5,415.5 907.5,417.5 907.5,419.5 907.5,421.5 907.5,423.5 907.5,425.5 907.5,427.5 907.5,429.5 906.5,431.5 907.5,433.5 907.5,435.5 907.5,437.5 907.5,439.5 907.5,440.5 906.5,442.5 907.5,444.5 907.5,446.5 907.5,448.5 907.5,450.5 907.5,452.5 907.5,454.5 907.5,456.5 907.5,458.5 907.5,460.5 907.5,462.5 907.5,464.5 907.5,466.5 907.5,467.5 907.5,469.5 907.5,471.5 907.5,473.5 907.5,475.5 907.5,477.5 907.5,479.5 907.5,481.5 907.5,483.5 907.5,485.5 907.5,487.5 907.5,489.5 907.5,491.5 907.5,493.5 907.5,494.5 907.5,496.5 907.5,498.5 907.5,500.5 907.5,502.5 907.5,504.5 907.5,506.5 906.5,508.5 906.5,510.5 907.5,512.5 907.5,514.5 907.5,516.5 907.5,518.5 907.5,520.5 907.5,521.5 906.5,523.5 906.5,525.5 906.5,527.5 906.5,529.5 907.5,531.5 907.5,533.5 907.5,535.5 907.5,537.5 906.5,539.5 906.5,541.5 907.5,543.5 907.5,545.5 907.5,547.5 907.5,548.5 907.5,550.5 907.5,552.5 907.5,554.5 907.5,556.5 907.5,558.5 907.5,560.5 907.5,562.5 907.5,564.5 907.5,566.5 907.5,567.5" stroke="none" marker-start="url(#gf)" marker-mid="url(#gf)" marker-end="url(#gf)"/></g>
<polyline points="146.5,181.5 147.5,181.5 149.5,181.5 151.5,181.5 153.5,181.5 155.5,181.5 157.5,181.5 159.5,181.5 161.5,181.5 163.5,181.5 165.5,181.5 167.5,181.5 169.5,181.5 171.5,181.5 173.5,181.5 174.5,181.5 176.5,181.5 178.5,181.5 180.5,181.5 182.5,181.5 184.5,181.5 186.5,181.5 188.5,181.5 190.5,181.5 192.5,181.5 194.5,181.5 196.5,181.5 198.5,181.5 200.5,181.5 201.5,181.5 203.5,181.5 205.5,181.5 207.5,181.5 209.5,181.5 211.5,181.5 213.5,181.5 215.5,181.5 217.5,181.5 219.5,181.5 221.5,181.5 223.5,181.5 225.5,181.5 227.5,181.5 228.5,181.5 230.5,181.5 232.5,181.5 234.5,181.5 236.5,181.5 238.5,181.5 240.5,181.5 242.5,181.5 244.5,181.5 246.5,181.5 248.5,181.5 250.5,181.5 252.5,181.5 254.5,181.5 255.5,181.5 257.5,181.5 259.5,181.5 261.5,181.5 263.5,181.5 265.5,181.5 267.5,181.5 269.5,181.5 271.5,181.5 273.5,181.5 275.5,181.5 277.5,181.5 279.5,181.5 281.5,181.5 282.5,181.5 284.5,181.5 286.5,181.5 288.5,181.5 290.5,181.5 292.5,181.5 294.5,181.5 296.5,181.5 298.5,181.5 300.5,181.5 302.5,181.5 304.5,181.5 306.5,181.5 308.5,181.5 309.5,181.5 311.5,181.5 313.5,181.5 315.5,181.5 317.5,181.5 319.5,181.5 321.5,181.5 323.5,181.5 325.5,181.5 327.5,181.5 329.5,181.5 331.5,181.5 333.5,181.5 335.5,181.5 336.5,181.5 338.5,181.5 340.5,181.5 342.5,181.5 344.5,181.5 346.5,181.5 348.5,181.5 350.5,181.5 352.5,181.5 354.5,181.5 356.5,181.5 358.5,181.5 360.5,181.5 362.5,181.5 363.5,181.5 365.5,181.5 367.5,181.5 369.5,181.5 371.5,181.5 373.5,181.5 375.5,181.5 377.5,181.5 379.5,181.5 381.5,181.5 383.5,181.5 385.5,181.5 387.5,181.5 389.5,181.5 390.5,181.5 392.5,181.5 394.5,181.5 396.5,181.5 398.5,181.5 400.5,181.5 402.5,181.5 404.5,181.5 406.5,181.5 408.5,181.5 410.5,181.5 412.5,181.5 414.5,181.5 416.5,181.5 417.5,181.5 419.5,181.5 421.5,181.5 423.5,181.5 425.5,181.5 427.5,181.5 429.5,181.5 431.5,181.5 433.5,181.5 435.5,181.5 437.5,181.5 439.5,181.5 441.5,181.5 443.5,181.5 444.5,181.5 446.5,181.5 448.5,181.5 450.5,181.5 452.5,181.5 454.5,182.5 456.5,182.5 458.5,182.5 460.5,182.5 462.5,182.5 464.5,182.5 466.5,182.5 468.5,182.5 470.5,182.5 472.5,182.5 473.5,182.5 475.5,182.5 477.5,182.5 479.5,182.5 481.5,182.5 483.5,182.5 485.5,182.5 487.5,182.5 489.5,182.5 491.5,182.5 493.5,182.5 495.5,182.5 497.5,182.5 499.5,182.5 500.5,182.5 502.5,182.5 504.5,182.5 506.5,182.5 508.5,182.5 510.5,182.5 512.5,182.5 514.5,182.5 516.5,182.5 518.5,182.5 520.5,182.5 522.5,182.5 524.5,182.5 526.5,182.5 527.5,182.5 529.5,182.5 531.5,182.5 533.5,182.5 535.5,182.5 537.5,182.5 539.5,182.5 541.5,182.5 543.5,182.5 545.5,182.5 547.5,182.5 549.5,182.5 551.5,182.5 553.5,182.5 554.5,182.5 556.5,182.5 558.5,182.5 560.5,182.5 562.5,182.5 564.5,182.5 566.5,182.5 568.5,182.5 570.5,182.5 572.5,182.5 574.5,182.5 576.5,182.5 578.5,182.5 580.5,182.5 581.5,182.5 583.5,182.5 585.5,182.5 587.5,182.5 589.5,182.5 591.5,182.5 593.5,182.5 595.5,182.5 597.5,182.5 599.5,182.5 601.5,182.5 603.5,182.5 605.5,182.5 607.5,182.5 608.5,182.5 610.5,182.5 612.5,182.5 614.5,182.5 616.5,182.5 618.5,182.5 620.5,181.5 622.5,181.5 624.5,181.5 626.5,181.5 628.5,181.5 630.5,181.5 632.5,181.5 634.5,181.5 635.5,181.5 637.5,181.5 639.5,181.5 641.5,181.5 643.5,181.5 645.5,181.5 647.5,181.5 649.5,181.5 651.5,181.5 653.5,181.5 655.5,181.5 657.5,181.5 659.5,181.5 661.5,180.5 662.5,180.5 664.5,180.5 666.5,180.5 668.5,180.5 670.5,180.5 672.5,180.5 674.5,180.5 676.5,180.5 678.5,180.5 680.5,180.5 682.5,180.5 684.5,180.5 686.5,180.5 688.5,180.5 689.5,180.5 691.5,180.5 693.5,180.5 695.5,180.5 697.5,180.5 699.5,180.5 701.5,180.5 703.5,180.5 705.5,180.5 707.5,180.5 709.5,180.5 711.5,181.5 713.5,181.5 715.5,181.5 716.5,181.5 718.5,181.5 720.5,181.5 722.5,181.5 724.5,181.5 726.5,181.5 728.5,181.5 730.5,181.5 732.5,182.5 734.5,182.5 736.5,182.5 738.5,182.5 740.5,182.5 742.5,182.5 743.5,182.5 745.5,182.5 747.5,182.5 749.5,182.5 751.5,183.5 753.5,183.5 755.5,184.5" stroke="none" marker-start="url(#gd0)" marker-mid="url(#gd)" marker-end="url(#gd)"/>
<polyline points="757.5,184.5 759.5,185.5 761.5,185.5 763.5,185.5 764.5,185.5 766.5,186.5 768.5,186.5 770.5,187.5 772.5,188.5 774.5,188.5 776.5,189.5 777.5,189.5 779.5,189.5 781.5,190.5 783.5,191.5 785.5,191.5 787.5,192.5 788.5,193.5 790.5,193.5 792.5,194.5 794.5,195.5 795.5,196.5 797.5,196.5 799.5,197.5 801.5,198.5 803.5,199.5 805.5,199.5 806.5,200.5 808.5,201.5 810.5,202.5 811.5,203.5 813.5,204.5 814.5,205.5 816.5,206.5 818.5,207.5 820.5,208.5 821.5,209.5 823.5,210.5 824.5,212.5 826.5,213.5 827.5,214.5 829.5,215.5 830.5,216.5 832.5,217.5 833.5,219.5 835.5,220.5 836.5,221.5 838.5,223.5 839.5,224.5 840.5,225.5 842.5,226.5 843.5,228.5 845.5,229.5 846.5,230.5 847.5,232.5 849.5,233.5 850.5,234.5 852.5,236.5 853.5,237.5 855.5,238.5 856.5,240.5 857.5,241.5 858.5,243.5 860.5,244.5 861.5,246.5 862.5,247.5 863.5,249.5 864.5,250.5 866.5,252.5 867.5,253.5 868.5,254.5 870.5,256.5 871.5,257.5 872.5,259.5 873.5,261.5 874.5,262.5 876.5,264.5 877.5,265.5 878.5,266.5 879.5,268.5 881.5,269.5 882.5,271.5 883.5,273.5 884.5,274.5 885.5,276.5 886.5,277.5 887.5,279.5 889.5,280.5 890.5,282.5 891.5,283.5 892.5,285.5 893.5,287.5 893.5,289.5 894.5,290.5 895.5,292.5 896.5,294.5 897.5,295.5 898.5,297.5 898.5,299.5 899.5,301.5 900.5,303.5 901.5,304.5 901.5,306.5 902.5,308.5 902.5,310.5 903.5,312.5 903.5,314.5 904.5,316.5 904.5,317.5 905.5,319.5 905.5,321.5 906.5,323.5 906.5,325.5 907.5,327.5 907.5,329.5 907.5,331.5 907.5,332.5 907.5,334.5 907.5,336.5 907.5,338.5 907.5,340.5 908.5,342.5 908.5,344.5" stroke="none" marker-start="url(#gda)" marker-mid="url(#gda)" marker-end="url(#gda)"/>
<polyline points="908.5,346.5 908.5,348.5 908.5,350.5 908.5,352.5 908.5,354.5 908.5,356.5 908.5,358.5 908.5,359.5 908.5,361.5 908.5,363.5 908.5,365.5 908.5,367.5 908.5,369.5 908.5,371.5 908.5,373.5 907.5,375.5 907.5,377.5 907.5,379.5 907.5,381.5 907.5,383.5 907.5,385.5 907.5,386.5 907.5,388.5 907.5,390.5 907.5,392.5 907.5,394.5 907.5,396.5 907.5,398.5 907.5,400.5 907.5,402.5 907.5,404.5 907.5,406.5 907.5,408.5 907.5,410.5 907.5,412.5 907.5,413.5 907.5,415.5 907.5,417.5 907.5,419.5 907.5,421.5 907.5,423.5 907.5,425.5 907.5,427.5 907.5,429.5 906.5,431.5 907.5,433.5 907.5,435.5 907.5,437.5 907.5,439.5 907.5,440.5 906.5,442.5 907.5,444.5 907.5,446.5 907.5,448.5 907.5,450.5 907.5,452.5 907.5,454.5 907.5,456.5 907.5,458.5 907.5,460.5 907.5,462.5 907.5,464.5 907.5,466.5 907.5,467.5 907.5,469.5 907.5,471.5 907.5,473.5 907.5,475.5 907.5,477.5 907.5,479.5 907.5,481.5 907.5,483.5 907.5,485.5 907.5,487.5 907.5,489.5 907.5,491.5 907.5,493.5 907.5,494.5 907.5,496.5 907.5,498.5 907.5,500.5 907.5,502.5 907.5,504.5 907.5,506.5 906.5,508.5 906.5,510.5 907.5,512.5 907.5,514.5 907.5,516.5 907.5,518.5 907.5,520.5 907.5,521.5 906.5,523.5 906.5,525.5 906.5,527.5 906.5,529.5 907.5,531.5 907.5,533.5 907.5,535.5 907.5,537.5 906.5,539.5 906.5,541.5 907.5,543.5 907.5,545.5 907.5,547.5 907.5,548.5 907.5,550.5 907.5,552.5 907.5,554.5 907.5,556.5 907.5,558.5 907.5,560.5 907.5,562.5 907.5,564.5 907.5,566.5 907.5,567.5" stroke="none" marker-start="url(#gd)" marker-mid="url(#gd)" marker-end="url(#gd)"/>
</g>
<g font-size="27.3"><text transform="translate(146.0,602.6) scale(0.985,1.065)" text-anchor="middle">20</text><text transform="translate(242.4,602.6) scale(0.985,1.065)" text-anchor="middle">25</text><text transform="translate(338.9,602.6) scale(0.985,1.065)" text-anchor="middle">30</text><text transform="translate(435.3,602.6) scale(0.985,1.065)" text-anchor="middle">35</text><text transform="translate(531.8,602.6) scale(0.985,1.065)" text-anchor="middle">40</text><text transform="translate(628.2,602.6) scale(0.985,1.065)" text-anchor="middle">45</text><text transform="translate(724.7,602.6) scale(0.985,1.065)" text-anchor="middle">50</text><text transform="translate(821.1,602.6) scale(0.985,1.065)" text-anchor="middle">55</text><text transform="translate(917.6,602.6) scale(0.985,1.065)" text-anchor="middle">60</text><text transform="translate(1014.0,602.6) scale(0.985,1.065)" text-anchor="middle">65</text><text transform="translate(135.3,576.1) scale(0.985,1.065)" text-anchor="end">0</text><text transform="translate(135.3,479.7) scale(0.985,1.065)" text-anchor="end">5</text><text transform="translate(135.3,383.3) scale(0.985,1.065)" text-anchor="end">0</text><path transform="translate(105.40,383.3) scale(0.013130,-0.013463)" d="M763 0H583V1147Q518 1085 412.5 1023T223 930V1104Q374 1175 487 1276T647 1472H763Z" fill="#262626"/><text transform="translate(135.3,286.9) scale(0.985,1.065)" text-anchor="end">5</text><path transform="translate(105.40,286.9) scale(0.013130,-0.013463)" d="M763 0H583V1147Q518 1085 412.5 1023T223 930V1104Q374 1175 487 1276T647 1472H763Z" fill="#262626"/><text transform="translate(135.3,190.5) scale(0.985,1.065)" text-anchor="end">20</text><text transform="translate(135.3,94.1) scale(0.985,1.065)" text-anchor="end">25</text></g>
<text transform="translate(580,76.4) scale(0.957,1.064)" text-anchor="middle" font-size="30" font-weight="bold">Position</text>
<text transform="translate(580,638) scale(0.95,1.06)" text-anchor="middle" font-size="30">North</text>
<text transform="translate(90.3,326.3) rotate(-90) scale(0.96,1.06)" text-anchor="middle" font-size="30">East</text>
</svg>
</body></html>
